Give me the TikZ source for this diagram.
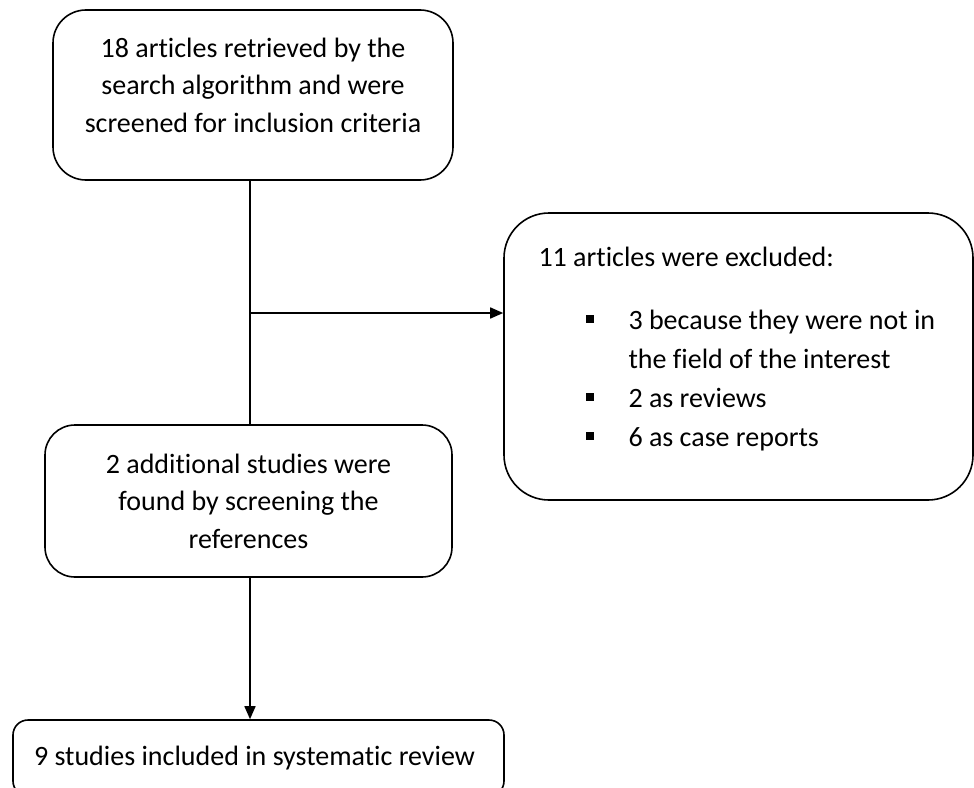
\documentclass[tikz,border=0pt]{standalone}
\usepackage{fontspec}
\setmainfont[Ligatures=NoCommon]{Carlito}
\usepackage{tikz}
\usetikzlibrary{arrows.meta}

\tikzset{
	box/.style={draw,line width=1.6,rounded corners=30pt,align=center,inner sep=0pt,
		font=\fontsize{28}{37.5}\selectfont},
	flow/.style={line width=1.6,-{Triangle[length=13pt,width=11pt]}},
}
\newcommand{\exclitem}[1]{\hspace*{47pt}\makebox[43pt][l]{\raisebox{6pt}{\rule{8pt}{8pt}}}#1}
\newcommand{\lowpad}{\rule[-20pt]{0pt}{20pt}}

\begin{document}
\begin{tikzpicture}[x=1pt,y=-1pt]
				\useasboundingbox (0,0) rectangle (974,787);
				\node[box,minimum width=400pt,minimum height=170pt,rounded corners=33pt] (search) at (253,95)
				{18 articles retrieved by the\\search algorithm and were\\screened for inclusion criteria\lowpad};
				\node[box,minimum width=469pt,minimum height=287pt,rounded corners=45pt,align=flush left,text width=400pt,
					font=\fontsize{28}{39}\selectfont] (excl) at (738.5,356.5)
				{11 articles were excluded:\\[24pt]
					\exclitem{3 because they were not in}\\
					\hspace*{90pt}the field of the interest\\
					\exclitem{2 as reviews}\\
					\exclitem{6 as case reports}\lowpad};
				\node[box,minimum width=407pt,minimum height=152pt] (found) at (248.5,501)
				{2 additional studies were\\found by screening the\\references};
				\node[box,minimum width=491pt,minimum height=76pt,rounded corners=15pt,align=flush left,text width=449pt] (incl) at (258.5,758)
				{9 studies included in systematic review};

				\coordinate (split) at (250,313);
				\draw[line width=1.6] (search.south -| split) -- (found.north -| split);
				\draw[flow] (split) -- (split -| excl.west);
				\draw[flow] (found.south -| split) -- (split |- incl.north);
\end{tikzpicture}
\end{document}
